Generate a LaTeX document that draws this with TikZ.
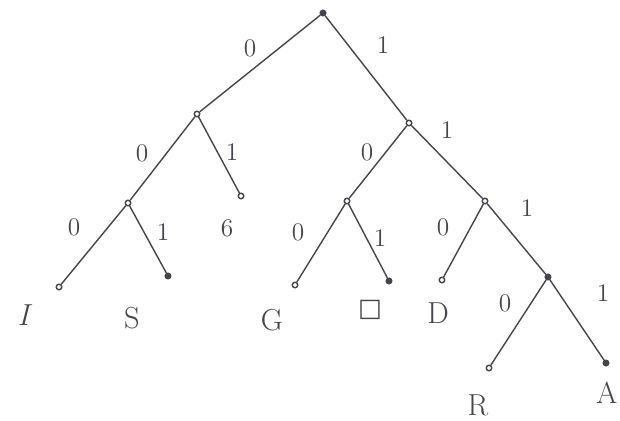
\documentclass[tikz,border=0pt]{standalone}
\usepackage{fontspec}
\usepackage{xcolor}
\newfontfamily\symfont{DejaVu Sans}
\definecolor{pencil}{HTML}{45454F}

\begin{document}
\begin{tikzpicture}[x=0.02cm, y=-0.02cm, every node/.style={text=pencil},
    knot/.style={draw=pencil, circle, thick, inner sep=0pt, minimum size=0.11cm},
    bit/.style={font=\Large},
    leaf/.style={font=\LARGE}]
  \useasboundingbox (0,0) rectangle (620,421);
  % internal nodes
  \node[knot, fill=pencil] (root) at (323, 13) {};
  \node[knot] (n0) at (197, 114) {};
  \node[knot] (n1) at (409, 123) {};
  \node[knot] (n00) at (128, 203) {};
  \node[knot] (n01) at (241, 196) {};
  \node[knot] (n10) at (347, 201) {};
  \node[knot] (n11) at (485, 201) {};
  \node[knot, fill=pencil] (n111) at (548, 277) {};
  % leaves
  \node[knot] (lI) at (59, 287) {};
  \node[knot, fill=pencil] (lS) at (168, 276) {};
  \node[knot] (lG) at (295, 285) {};
  \node[knot, fill=pencil] (lBox) at (389, 281) {};
  \node[knot] (lD) at (442, 280) {};
  \node[knot] (lR) at (489, 368) {};
  \node[knot, fill=pencil] (lA) at (606, 363) {};
  % branches
  \draw[pencil, thick] (root) -- (n0);
  \draw[pencil, thick] (root) -- (n1);
  \draw[pencil, thick] (n0) -- (n00);
  \draw[pencil, thick] (n0) -- (n01);
  \draw[pencil, thick] (n00) -- (lI);
  \draw[pencil, thick] (n00) -- (lS);
  \draw[pencil, thick] (n1) -- (n10);
  \draw[pencil, thick] (n1) -- (n11);
  \draw[pencil, thick] (n10) -- (lG);
  \draw[pencil, thick] (n10) -- (lBox);
  \draw[pencil, thick] (n11) -- (lD);
  \draw[pencil, thick] (n11) -- (n111);
  \draw[pencil, thick] (n111) -- (lR);
  \draw[pencil, thick] (n111) -- (lA);
  % bit labels
  \node[bit] (b0) at (250, 48) {0};
  \node[bit] (b1) at (383, 45) {1};
  \node[bit] (b00) at (142, 153) {0};
  \node[bit] (b01) at (232, 152) {1};
  \node[bit] (b000) at (74, 227) {0};
  \node[bit] (b001) at (163, 232) {1};
  \node[bit] (bsix) at (227, 228) {6};
  \node[bit] (b10) at (367, 152) {0};
  \node[bit] (b11) at (447, 130) {1};
  \node[bit] (b100) at (298, 232) {0};
  \node[bit] (b101) at (380, 238) {1};
  \node[bit] (b110) at (443, 227) {0};
  \node[bit] (b111) at (527, 208) {1};
  \node[bit] (b1110) at (505, 303) {0};
  \node[bit] (b1111) at (603, 293) {1};
  % symbols
  \node[leaf] (tI) at (25, 315) {\textit{I}};
  \node[leaf] (tS) at (132, 318) {S};
  \node[leaf] (tG) at (272, 320) {G};
  \node[font=\Large] (tBox) at (370, 310) {\symfont □};
  \node[leaf] (tD) at (438, 313) {D};
  \node[leaf] (tR) at (478, 405) {R};
  \node[leaf] (tA) at (607, 393) {A};
\end{tikzpicture}
\end{document}
